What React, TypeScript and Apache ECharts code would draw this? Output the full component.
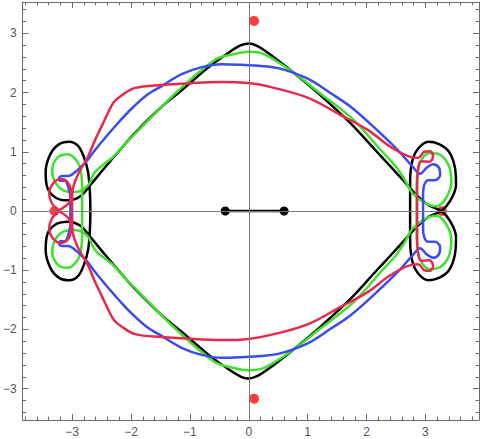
import React, { useEffect, useRef } from "react";
import * as echarts from "echarts";

const X_MIN = -3.84;
const X_MAX = 3.91;
const Y_MIN = -3.53;
const Y_MAX = 3.53;

const MAJOR_TICKS = [-3, -2, -1, 0, 1, 2, 3];
const MINOR_TICKS = [
  -3.8, -3.6, -3.4, -3.2, -2.8, -2.6, -2.4, -2.2, -1.8, -1.6, -1.4, -1.2,
  -0.8, -0.6, -0.4, -0.2, 0.2, 0.4, 0.6, 0.8, 1.2, 1.4, 1.6, 1.8, 2.2, 2.4,
  2.6, 2.8, 3.2, 3.4, 3.6, 3.8,
];

const blackCurve = [
  [-2.69, 0], [-2.70, 0.35], [-2.73, 0.66], [-2.80, 0.91], [-2.90, 1.10], [-3.05, 1.17],
  [-3.22, 1.13], [-3.37, 0.96], [-3.45, 0.66], [-3.42, 0.39], [-3.27, 0.22], [-3.07, 0.18],
  [-2.86, 0.25], [-2.69, 0.44], [-2.44, 0.74], [-2.19, 1.03], [-1.93, 1.32], [-1.48, 1.76],
  [-1.14, 2.04], [-0.68, 2.43], [-0.35, 2.67], [-0.13, 2.80], [0, 2.83], [0.14, 2.79],
  [0.33, 2.67], [0.77, 2.33], [1.20, 1.97], [1.73, 1.48], [2.12, 1.06], [2.40, 0.76],
  [2.62, 0.52], [2.82, 0.30], [3.05, 0.10], [3.27, 0], [3.42, -0.17], [3.52, -0.44],
  [3.50, -0.74], [3.40, -1.00], [3.23, -1.13], [3.05, -1.17], [2.88, -1.06], [2.78, -0.86],
  [2.74, -0.49], [2.74, 0], [2.74, 0.49], [2.78, 0.86], [2.88, 1.06], [3.05, 1.17],
  [3.23, 1.13], [3.40, 1.00], [3.50, 0.74], [3.52, 0.44], [3.42, 0.17], [3.27, 0],
  [3.05, -0.10], [2.82, -0.30], [2.62, -0.52], [2.40, -0.76], [2.12, -1.06], [1.73, -1.48],
  [1.20, -1.97], [0.77, -2.33], [0.33, -2.67], [0.14, -2.79], [0, -2.83], [-0.13, -2.80],
  [-0.35, -2.67], [-0.68, -2.43], [-1.14, -2.04], [-1.48, -1.76], [-1.93, -1.32], [-2.19, -1.03],
  [-2.44, -0.74], [-2.69, -0.44], [-2.86, -0.25], [-3.07, -0.18], [-3.27, -0.22], [-3.42, -0.39],
  [-3.45, -0.66], [-3.37, -0.96], [-3.22, -1.13], [-3.05, -1.17], [-2.90, -1.10], [-2.80, -0.91],
  [-2.73, -0.66], [-2.70, -0.35], [-2.69, 0],
];

const greenCurve = [
  [-2.83, 0], [-2.83, 0.35], [-2.85, 0.66], [-2.91, 0.83], [-3.07, 0.96], [-3.24, 0.91],
  [-3.34, 0.69], [-3.29, 0.49], [-3.15, 0.35], [-2.96, 0.32], [-2.74, 0.42], [-2.61, 0.66],
  [-2.32, 0.90], [-2.15, 1.08], [-1.65, 1.59], [-1.19, 2.04], [-0.58, 2.55], [-0.30, 2.64],
  [0, 2.69], [0.26, 2.65], [0.77, 2.33], [1.17, 2.02], [1.78, 1.54], [2.24, 1.03],
  [2.49, 0.76], [2.63, 0.56], [2.78, 0.30], [2.98, 0.14], [3.18, 0.08], [3.35, 0.22],
  [3.44, 0.49], [3.40, 0.76], [3.25, 0.95], [3.07, 0.98], [2.93, 0.86], [2.86, 0.61],
  [2.85, 0.30], [2.85, 0], [2.85, -0.30], [2.86, -0.61], [2.93, -0.86], [3.07, -0.98],
  [3.25, -0.95], [3.40, -0.76], [3.44, -0.49], [3.35, -0.22], [3.18, -0.08], [2.98, -0.14],
  [2.78, -0.30], [2.63, -0.56], [2.49, -0.76], [2.24, -1.03], [1.78, -1.54], [1.17, -2.02],
  [0.77, -2.33], [0.26, -2.65], [0, -2.69], [-0.30, -2.64], [-0.58, -2.55], [-1.19, -2.04],
  [-1.65, -1.59], [-2.15, -1.08], [-2.32, -0.90], [-2.61, -0.66], [-2.74, -0.42], [-2.96, -0.32],
  [-3.15, -0.35], [-3.29, -0.49], [-3.34, -0.69], [-3.24, -0.91], [-3.07, -0.96], [-2.91, -0.83],
  [-2.85, -0.66], [-2.83, -0.35], [-2.83, 0],
];

const blueCurve = [
  [-3.03, 0], [-3.03, 0.22], [-3.07, 0.42], [-3.13, 0.51], [-3.20, 0.51], [-3.22, 0.56],
  [-3.17, 0.59], [-3.07, 0.59], [-2.91, 0.69], [-2.74, 0.86], [-2.61, 1.03], [-2.41, 1.27],
  [-2.19, 1.52], [-1.98, 1.74], [-1.73, 1.96], [-1.48, 2.11], [-1.14, 2.31], [-0.80, 2.43],
  [-0.46, 2.48], [-0.13, 2.47], [0.21, 2.45], [0.55, 2.40], [1.01, 2.23], [1.39, 1.99],
  [1.73, 1.76], [2.12, 1.42], [2.53, 1.03], [2.79, 0.74], [2.91, 0.63], [3.02, 0.73],
  [3.13, 0.79], [3.23, 0.73], [3.25, 0.61], [3.16, 0.52], [3.05, 0.52], [2.98, 0.44],
  [2.96, 0.27], [2.96, 0], [2.96, -0.27], [2.98, -0.44], [3.05, -0.52], [3.16, -0.52],
  [3.25, -0.61], [3.23, -0.73], [3.13, -0.79], [3.02, -0.73], [2.91, -0.63], [2.79, -0.74],
  [2.53, -1.03], [2.12, -1.42], [1.73, -1.76], [1.39, -1.99], [1.01, -2.23], [0.55, -2.40],
  [0.21, -2.45], [-0.13, -2.47], [-0.46, -2.48], [-0.80, -2.43], [-1.14, -2.31], [-1.48, -2.11],
  [-1.73, -1.96], [-1.98, -1.74], [-2.19, -1.52], [-2.41, -1.27], [-2.61, -1.03], [-2.74, -0.86],
  [-2.91, -0.69], [-3.07, -0.59], [-3.17, -0.59], [-3.22, -0.56], [-3.20, -0.51], [-3.13, -0.51],
  [-3.07, -0.42], [-3.03, -0.22], [-3.03, 0],
];

const redCurve = [
  [-3.00, 0], [-3.00, 0.19], [-2.98, 0.41], [-2.88, 0.66], [-2.74, 0.90], [-2.61, 1.20],
  [-2.49, 1.45], [-2.39, 1.66], [-2.29, 1.84], [-2.15, 1.96], [-1.93, 2.08], [-1.48, 2.13],
  [-1.14, 2.15], [-0.46, 2.18], [0, 2.16], [0.43, 2.08], [1.01, 1.91], [1.56, 1.62],
  [2.02, 1.37], [2.41, 1.08], [2.76, 0.91], [2.88, 0.90], [2.98, 1.00], [3.08, 1.01],
  [3.13, 0.93], [3.07, 0.83], [2.93, 0.84], [2.88, 0.74], [2.86, 0.44], [2.86, 0],
  [2.86, -0.44], [2.88, -0.74], [2.93, -0.84], [3.07, -0.83], [3.13, -0.93], [3.08, -1.01],
  [2.98, -1.00], [2.88, -0.90], [2.76, -0.91], [2.41, -1.08], [2.02, -1.37], [1.56, -1.62],
  [1.01, -1.91], [0.43, -2.08], [0, -2.16], [-0.46, -2.18], [-1.14, -2.15], [-1.48, -2.13],
  [-1.93, -2.08], [-2.15, -1.96], [-2.29, -1.84], [-2.39, -1.66], [-2.49, -1.45], [-2.61, -1.20],
  [-2.74, -0.90], [-2.88, -0.66], [-2.98, -0.41], [-3.00, -0.19], [-3.00, 0],
];

const redLoop = [
  [-3.23, 0], [-3.35, 0.14], [-3.39, 0.30], [-3.32, 0.47], [-3.20, 0.54], [-3.08, 0.49],
  [-3.02, 0.32], [-3.05, 0.14], [-3.23, 0], [-3.35, -0.14], [-3.39, -0.30], [-3.32, -0.47],
  [-3.20, -0.54], [-3.08, -0.49], [-3.02, -0.32], [-3.05, -0.14], [-3.23, 0],
];

const segment = [[-0.4, 0], [0.6, 0]];
const redPoints = [[0.09, 3.21], [0.09, -3.17], [-3.30, 0], [3.28, 0]];

const FRAME = "#6b6b6b";
const LABEL = "#555555";
const W = 2.5;

const fmt = (v: number) => (v < 0 ? "\u2212" + Math.abs(v) : String(v));

function axisMaker(min: number, max: number) {
  const base = {
    type: "value",
    min,
    max,
    splitLine: { show: false },
    minorTick: { show: false },
  };
  return (position: string, major: boolean, label: boolean, line: boolean) => ({
    ...base,
    position,
    axisLine: { show: line, onZero: false, lineStyle: { color: FRAME, width: 1 } },
    axisTick: {
      show: true,
      inside: true,
      length: major ? 6 : 3.5,
      customValues: major ? MAJOR_TICKS : MINOR_TICKS,
      lineStyle: { color: FRAME, width: 1 },
    },
    axisLabel: label
      ? {
          show: true,
          customValues: MAJOR_TICKS,
          formatter: fmt,
          color: LABEL,
          fontSize: 12,
          fontFamily: "Liberation Sans, Arial, sans-serif",
          margin: 6,
        }
      : { show: false },
  });
}

export default function App() {
  const ref = useRef<HTMLDivElement>(null);
  useEffect(() => {
    if (!ref.current) return;
    const chart = echarts.init(ref.current, null, { renderer: "svg" });
    const mkX = axisMaker(X_MIN, X_MAX);
    const mkY = axisMaker(Y_MIN, Y_MAX);
    const lineSeries = (data: number[][], color: string) => ({
      type: "line",
      data,
      xAxisIndex: 0,
      yAxisIndex: 0,
      showSymbol: false,
      symbol: "none",
      smooth: 0.35,
      lineStyle: { color, width: W },
      silent: true,
    });
    chart.setOption({
      animation: false,
      grid: { left: 20, right: 1, top: 2, bottom: 19 },
      xAxis: [
        mkX("bottom", true, true, true),
        mkX("bottom", false, false, false),
        mkX("top", true, false, true),
        mkX("top", false, false, false),
      ],
      yAxis: [
        mkY("left", true, true, true),
        mkY("left", false, false, false),
        mkY("right", true, false, true),
        mkY("right", false, false, false),
      ],
      series: [
        {
          type: "line",
          data: [],
          xAxisIndex: 0,
          yAxisIndex: 0,
          silent: true,
          markLine: {
            silent: true,
            symbol: ["none", "none"],
            label: { show: false },
            lineStyle: { color: "#7a7a7a", width: 1, type: "solid" },
            data: [{ xAxis: 0 }, { yAxis: 0 }],
          },
        },
        lineSeries(blackCurve, "#000000"),
        lineSeries(greenCurve, "#3fe12c"),
        lineSeries(blueCurve, "#3a4cee"),
        lineSeries(redCurve, "#e8294f"),
        lineSeries(redLoop, "#e8294f"),
        {
          type: "line",
          data: segment,
          xAxisIndex: 0,
          yAxisIndex: 0,
          symbol: "circle",
          symbolSize: 9,
          showSymbol: true,
          itemStyle: { color: "#000000" },
          lineStyle: { color: "#000000", width: W },
          silent: true,
        },
        {
          type: "scatter",
          data: redPoints,
          xAxisIndex: 0,
          yAxisIndex: 0,
          symbolSize: 10,
          itemStyle: { color: "#ff0d0d" },
          silent: true,
        },
      ],
    });
    return () => chart.dispose();
  }, []);
  return (
    <div
      ref={ref}
      style={{ position: "fixed", left: 0, top: 0, width: 480, height: 439, background: "#fff" }}
    />
  );
}
